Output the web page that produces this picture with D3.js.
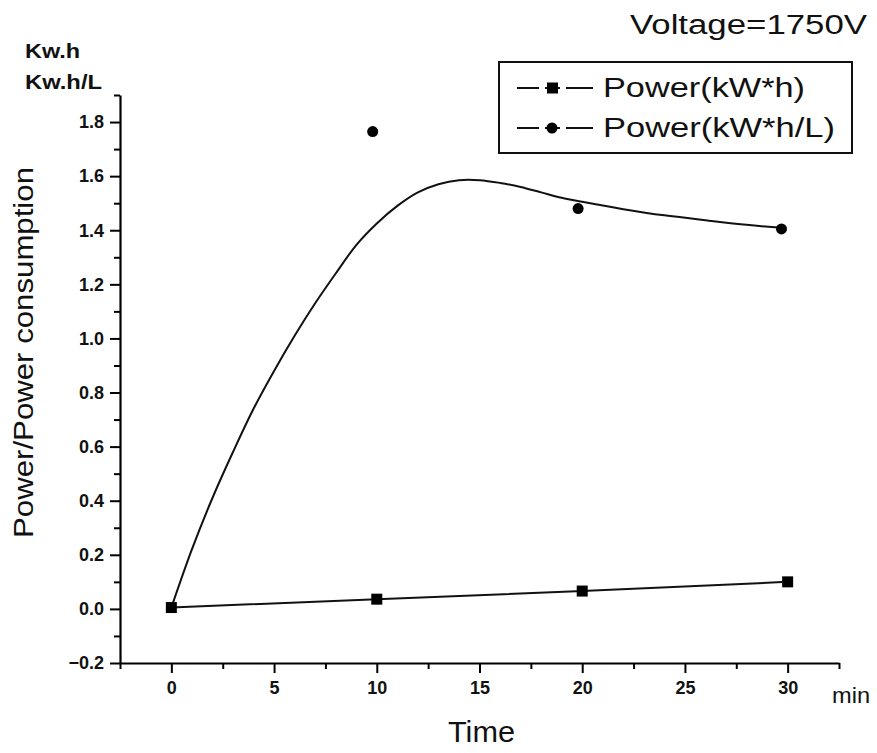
<!DOCTYPE html>
<html>
<head>
<meta charset="utf-8">
<script src="https://cdn.jsdelivr.net/npm/d3@7"></script>
<style>
  body { margin: 0; background: #fff; }
  svg { display: block; font-family: "Liberation Sans", Arial, sans-serif; }
</style>
</head>
<body>
<svg id="chart" width="877" height="753"></svg>
<script>
// ---- data ----
const timeTicks = [0, 5, 10, 15, 20, 25, 30];
const powerTicks = [-0.2, 0, 0.2, 0.4, 0.6, 0.8, 1.0, 1.2, 1.4, 1.6, 1.8];
const powerTime = [0, 10, 20, 30];
const powerKWh = [0.005, 0.036, 0.066, 0.10];
const perLTime = [9.8, 19.8, 29.7];
const powerKWhPerL = [1.765, 1.48, 1.405];
// fitted curve for kW*h/L
const fitTime = [0, 1, 2, 3, 4, 5, 6, 7, 8, 9, 10, 11, 12, 13, 14, 15, 16, 17, 18, 19, 20, 22, 24, 26, 28, 29.8];
const fitValue = [0.005, 0.22, 0.41, 0.58, 0.74, 0.88, 1.01, 1.13, 1.24, 1.345, 1.425, 1.49, 1.54, 1.57, 1.585, 1.585, 1.575, 1.56, 1.54, 1.52, 1.505, 1.478, 1.455, 1.437, 1.42, 1.408];
const seriesNames = ["Power(kW*h)", "Power(kW*h/L)"];

const svg = d3.select("#chart");
const x = d3.scaleLinear().domain([-2.5, 32.5]).range([120, 839]);
const y = d3.scaleLinear().domain([-0.2, 1.9]).range([663, 95]);

// minor ticks
const xMinor = d3.range(-2.5, 32.6, 2.5).filter(v => Math.abs(v % 5) > 0.01);
const yMinor = d3.range(-0.1, 1.91, 0.2);

svg.append("g").attr("transform", "translate(0,663)")
  .call(d3.axisBottom(x).tickValues(xMinor).tickFormat("").tickSize(6).tickSizeOuter(0))
  .call(g => g.select(".domain").remove())
  .selectAll("line").attr("stroke", "#000").attr("stroke-width", 2);
svg.append("g").attr("transform", "translate(120,0)")
  .call(d3.axisLeft(y).tickValues(yMinor).tickFormat("").tickSize(6).tickSizeOuter(0))
  .call(g => g.select(".domain").remove())
  .selectAll("line").attr("stroke", "#000").attr("stroke-width", 2);

const xAxis = svg.append("g").attr("transform", "translate(0,663)")
  .call(d3.axisBottom(x).tickValues(timeTicks).tickFormat(d3.format("d")).tickSize(10).tickSizeOuter(0).tickPadding(8));
const yAxis = svg.append("g").attr("transform", "translate(120,0)")
  .call(d3.axisLeft(y).tickValues(powerTicks).tickFormat(d3.format(".1f")).tickSize(10).tickSizeOuter(0).tickPadding(6));

[xAxis, yAxis].forEach(g => {
  g.select(".domain").attr("stroke", "#000").attr("stroke-width", 2.2);
  g.selectAll(".tick line").attr("stroke", "#000").attr("stroke-width", 2);
  g.selectAll(".tick text").attr("fill", "#111").attr("font-size", 18).attr("font-weight", "bold")
    .attr("font-family", "'Liberation Sans', Arial, sans-serif");
});

// fitted curve (kW*h/L)
const fitPts = fitTime.map((t, i) => [t, fitValue[i]]);
svg.append("path").datum(fitPts)
  .attr("fill", "none").attr("stroke", "#111").attr("stroke-width", 2)
  .attr("d", d3.line().x(d => x(d[0])).y(d => y(d[1])).curve(d3.curveCatmullRom));

// power line (kW*h)
const powPts = powerTime.map((t, i) => [t, powerKWh[i]]);
svg.append("path").datum(powPts)
  .attr("fill", "none").attr("stroke", "#111").attr("stroke-width", 2)
  .attr("d", d3.line().x(d => x(d[0])).y(d => y(d[1])));

svg.selectAll("rect.sq").data(powPts).enter().append("rect").attr("class", "sq")
  .attr("x", d => x(d[0]) - 5.5).attr("y", d => y(d[1]) - 5.5)
  .attr("width", 11).attr("height", 11).attr("fill", "#000");

const perLPts = perLTime.map((t, i) => [t, powerKWhPerL[i]]);
svg.selectAll("circle.pt").data(perLPts).enter().append("circle").attr("class", "pt")
  .attr("cx", d => x(d[0])).attr("cy", d => y(d[1])).attr("r", 5.5).attr("fill", "#000");

// texts
svg.append("text").attr("x", 630).attr("y", 34).attr("font-size", 27)
  .attr("textLength", 237).attr("lengthAdjust", "spacingAndGlyphs").attr("fill", "#111").text("Voltage=1750V");
svg.append("text").attr("x", 25).attr("y", 58).attr("font-size", 20).attr("font-weight", "bold")
  .attr("textLength", 55).attr("lengthAdjust", "spacingAndGlyphs").attr("fill", "#111").text("Kw.h");
svg.append("text").attr("x", 25).attr("y", 89).attr("font-size", 20).attr("font-weight", "bold")
  .attr("textLength", 77).attr("lengthAdjust", "spacingAndGlyphs").attr("fill", "#111").text("Kw.h/L");
svg.append("text").attr("x", 832).attr("y", 703).attr("font-size", 22)
  .attr("textLength", 38).attr("lengthAdjust", "spacingAndGlyphs").attr("fill", "#111").text("min");
svg.append("text").attr("x", 448).attr("y", 742).attr("font-size", 29)
  .attr("textLength", 67).attr("lengthAdjust", "spacingAndGlyphs").attr("fill", "#111").text("Time");
svg.append("text").attr("transform", "translate(33,538) rotate(-90)").attr("x", 0).attr("y", 0)
  .attr("font-size", 27).attr("textLength", 371).attr("lengthAdjust", "spacingAndGlyphs")
  .attr("fill", "#111").text("Power/Power consumption");

// legend
const lg = svg.append("g");
lg.append("rect").attr("x", 499).attr("y", 62).attr("width", 353).attr("height", 91)
  .attr("fill", "none").attr("stroke", "#111").attr("stroke-width", 2);
const legendY = [88, 128];
const legendLen = [202, 232];
seriesNames.forEach((name, i) => {
  const ly = legendY[i];
  lg.append("line").attr("x1", 517).attr("x2", 593).attr("y1", ly).attr("y2", ly)
    .attr("stroke", "#111").attr("stroke-width", 2);
  if (i === 0) {
    lg.append("rect").attr("x", 547).attr("y", ly - 5.5).attr("width", 11).attr("height", 11).attr("fill", "#000");
  } else {
    lg.append("circle").attr("cx", 552).attr("cy", ly).attr("r", 5.5).attr("fill", "#000");
  }
  lg.append("line").attr("x1", 547 - 8).attr("x2", 547 - 2).attr("y1", ly).attr("y2", ly)
    .attr("stroke", "#fff").attr("stroke-width", 3);
  lg.append("line").attr("x1", 558 + 2).attr("x2", 558 + 8).attr("y1", ly).attr("y2", ly)
    .attr("stroke", "#fff").attr("stroke-width", 3);
  lg.append("text").attr("x", 603).attr("y", ly + 9).attr("font-size", 27)
    .attr("textLength", legendLen[i]).attr("lengthAdjust", "spacingAndGlyphs")
    .attr("fill", "#111").text(name);
});
</script>
</body>
</html>
